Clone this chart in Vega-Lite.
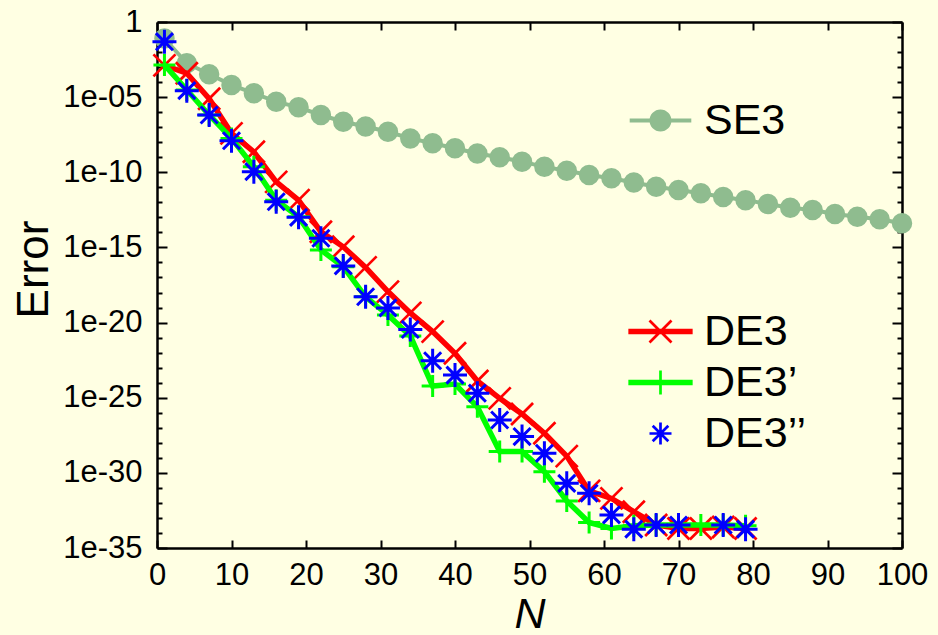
{
  "$schema": "https://vega.github.io/schema/vega-lite/v6.json",
  "width": 745,
  "height": 526,
  "autosize": {"type": "none"},
  "padding": {"left": 157, "top": 22, "right": 36, "bottom": 87},
  "background": "#FFFFE3",
  "config": {
    "view": {"stroke": null},
    "font": "Liberation Sans",
    "axis": {
      "labelFont": "Liberation Sans",
      "titleFont": "Liberation Sans",
      "labelColor": "black",
      "titleColor": "black",
      "grid": false,
      "domainColor": "black",
      "domainWidth": 2.5,
      "tickColor": "black",
      "tickWidth": 2,
      "labelFlush": false,
      "labelOverlap": false
    },
    "legend": {"labelFont": "Liberation Sans", "labelFontSize": 43, "labelColor": "black"}
  },
  "data": {
    "values": [
      {"series": "SE3", "N": 1, "err": 8e-2},
      {"series": "SE3", "N": 4, "err": 1.8e-3},
      {"series": "SE3", "N": 7, "err": 3.3e-4},
      {"series": "SE3", "N": 10, "err": 6.5e-5},
      {"series": "SE3", "N": 13, "err": 1.8e-5},
      {"series": "SE3", "N": 16, "err": 5.0e-6},
      {"series": "SE3", "N": 19, "err": 2.1e-6},
      {"series": "SE3", "N": 22, "err": 6.5e-7},
      {"series": "SE3", "N": 25, "err": 2.3e-7},
      {"series": "SE3", "N": 28, "err": 1.1e-7},
      {"series": "SE3", "N": 31, "err": 5.0e-8},
      {"series": "SE3", "N": 34, "err": 1.8e-8},
      {"series": "SE3", "N": 37, "err": 8.5e-9},
      {"series": "SE3", "N": 40, "err": 4.0e-9},
      {"series": "SE3", "N": 43, "err": 1.8e-9},
      {"series": "SE3", "N": 46, "err": 1.0e-9},
      {"series": "SE3", "N": 49, "err": 5.1e-10},
      {"series": "SE3", "N": 52, "err": 2.3e-10},
      {"series": "SE3", "N": 55, "err": 1.26e-10},
      {"series": "SE3", "N": 58, "err": 6.6e-11},
      {"series": "SE3", "N": 61, "err": 4.0e-11},
      {"series": "SE3", "N": 64, "err": 2.1e-11},
      {"series": "SE3", "N": 67, "err": 1.1e-11},
      {"series": "SE3", "N": 70, "err": 6.6e-12},
      {"series": "SE3", "N": 73, "err": 4.0e-12},
      {"series": "SE3", "N": 76, "err": 2.3e-12},
      {"series": "SE3", "N": 79, "err": 1.4e-12},
      {"series": "SE3", "N": 82, "err": 7.8e-13},
      {"series": "SE3", "N": 85, "err": 4.4e-13},
      {"series": "SE3", "N": 88, "err": 3.1e-13},
      {"series": "SE3", "N": 91, "err": 1.7e-13},
      {"series": "SE3", "N": 94, "err": 1.1e-13},
      {"series": "SE3", "N": 97, "err": 7.6e-14},
      {"series": "SE3", "N": 100, "err": 4.1e-14},

      {"series": "DE3", "N": 1, "err": 1.3e-3},
      {"series": "DE3", "N": 4, "err": 3.9e-4},
      {"series": "DE3", "N": 7, "err": 7.9e-6},
      {"series": "DE3", "N": 10, "err": 3.9e-8},
      {"series": "DE3", "N": 13, "err": 2.3e-9},
      {"series": "DE3", "N": 16, "err": 2.3e-11},
      {"series": "DE3", "N": 19, "err": 1.4e-12},
      {"series": "DE3", "N": 22, "err": 1.1e-14},
      {"series": "DE3", "N": 25, "err": 1.1e-15},
      {"series": "DE3", "N": 28, "err": 4.7e-17},
      {"series": "DE3", "N": 31, "err": 1.15e-18},
      {"series": "DE3", "N": 34, "err": 4.4e-20},
      {"series": "DE3", "N": 37, "err": 2.5e-21},
      {"series": "DE3", "N": 40, "err": 9.1e-23},
      {"series": "DE3", "N": 43, "err": 1.3e-24},
      {"series": "DE3", "N": 46, "err": 9.1e-26},
      {"series": "DE3", "N": 49, "err": 8.3e-27},
      {"series": "DE3", "N": 52, "err": 4.3e-28},
      {"series": "DE3", "N": 55, "err": 1.3e-29},
      {"series": "DE3", "N": 58, "err": 6.3e-32},
      {"series": "DE3", "N": 61, "err": 2.0e-32},
      {"series": "DE3", "N": 64, "err": 2.6e-33},
      {"series": "DE3", "N": 67, "err": 3.4e-34},
      {"series": "DE3", "N": 70, "err": 2.0e-34},
      {"series": "DE3", "N": 73, "err": 2.0e-34},
      {"series": "DE3", "N": 76, "err": 2.5e-34},
      {"series": "DE3", "N": 79, "err": 2.0e-34},

      {"series": "DE3’", "N": 1, "err": 1.4e-3},
      {"series": "DE3’", "N": 4, "err": 3.0e-5},
      {"series": "DE3’", "N": 7, "err": 6.5e-7},
      {"series": "DE3’", "N": 10, "err": 1.8e-8},
      {"series": "DE3’", "N": 13, "err": 2.3e-10},
      {"series": "DE3’", "N": 16, "err": 1.4e-12},
      {"series": "DE3’", "N": 19, "err": 1.1e-13},
      {"series": "DE3’", "N": 22, "err": 6.8e-16},
      {"series": "DE3’", "N": 25, "err": 5.2e-17},
      {"series": "DE3’", "N": 28, "err": 5.2e-19},
      {"series": "DE3’", "N": 31, "err": 3.2e-20},
      {"series": "DE3’", "N": 34, "err": 1.3e-21},
      {"series": "DE3’", "N": 37, "err": 6.0e-25},
      {"series": "DE3’", "N": 40, "err": 8.1e-25},
      {"series": "DE3’", "N": 43, "err": 2.5e-26},
      {"series": "DE3’", "N": 46, "err": 2.6e-29},
      {"series": "DE3’", "N": 49, "err": 2.6e-29},
      {"series": "DE3’", "N": 52, "err": 1.2e-30},
      {"series": "DE3’", "N": 55, "err": 1.35e-32},
      {"series": "DE3’", "N": 58, "err": 5.0e-34},
      {"series": "DE3’", "N": 61, "err": 2.0e-34},
      {"series": "DE3’", "N": 64, "err": 3.0e-34},
      {"series": "DE3’", "N": 67, "err": 3.4e-34},
      {"series": "DE3’", "N": 70, "err": 3.4e-34},
      {"series": "DE3’", "N": 73, "err": 3.4e-34},
      {"series": "DE3’", "N": 76, "err": 3.4e-34},
      {"series": "DE3’", "N": 79, "err": 3.0e-34},

      {"series": "DE3’’", "N": 1, "err": 4.9e-2},
      {"series": "DE3’’", "N": 4, "err": 2.7e-5},
      {"series": "DE3’’", "N": 7, "err": 6.5e-7},
      {"series": "DE3’’", "N": 10, "err": 1.26e-8},
      {"series": "DE3’’", "N": 13, "err": 1.1e-10},
      {"series": "DE3’’", "N": 16, "err": 1.1e-12},
      {"series": "DE3’’", "N": 19, "err": 1.0e-13},
      {"series": "DE3’’", "N": 22, "err": 4.1e-15},
      {"series": "DE3’’", "N": 25, "err": 5.9e-17},
      {"series": "DE3’’", "N": 28, "err": 5.2e-19},
      {"series": "DE3’’", "N": 31, "err": 9.5e-20},
      {"series": "DE3’’", "N": 34, "err": 3.5e-21},
      {"series": "DE3’’", "N": 37, "err": 2.9e-23},
      {"series": "DE3’’", "N": 40, "err": 3.2e-24},
      {"series": "DE3’’", "N": 43, "err": 2.0e-25},
      {"series": "DE3’’", "N": 46, "err": 3.3e-27},
      {"series": "DE3’’", "N": 49, "err": 2.6e-28},
      {"series": "DE3’’", "N": 52, "err": 2.0e-29},
      {"series": "DE3’’", "N": 55, "err": 2.0e-31},
      {"series": "DE3’’", "N": 58, "err": 4.4e-32},
      {"series": "DE3’’", "N": 61, "err": 1.6e-33},
      {"series": "DE3’’", "N": 64, "err": 1.8e-34},
      {"series": "DE3’’", "N": 67, "err": 3.4e-34},
      {"series": "DE3’’", "N": 70, "err": 3.4e-34},
      {"series": "DE3’’", "N": 76, "err": 3.4e-34},
      {"series": "DE3’’", "N": 79, "err": 1.8e-34}
    ]
  },
  "layer": [
    {
      "mark": {"type": "point", "opacity": 0},
      "encoding": {
        "x": {
          "field": "N", "type": "quantitative",
          "scale": {"domain": [0, 100], "nice": false, "zero": false},
          "axis": {"orient": "top", "values": [0, 10, 20, 30, 40, 50, 60, 70, 80, 90, 100], "labels": false, "tickSize": -8, "title": null}
        },
        "y": {
          "field": "err", "type": "quantitative",
          "scale": {"type": "log", "domain": [1e-35, 1], "nice": false},
          "axis": {
            "orient": "right",
            "values": [1, 1e-1, 1e-2, 1e-3, 1e-4, 1e-5, 1e-6, 1e-7, 1e-8, 1e-9, 1e-10, 1e-11, 1e-12, 1e-13, 1e-14, 1e-15, 1e-16, 1e-17, 1e-18, 1e-19, 1e-20, 1e-21, 1e-22, 1e-23, 1e-24, 1e-25, 1e-26, 1e-27, 1e-28, 1e-29, 1e-30, 1e-31, 1e-32, 1e-33, 1e-34, 1e-35],
            "labels": false,
            "tickSize": {"condition": {"test": "round(log(datum.value)/LN10) % 5 == 0", "value": -10}, "value": -5},
            "title": null
          }
        }
      }
    },
    {
      "transform": [{"filter": "datum.series === 'SE3'"}],
      "mark": {"type": "line", "stroke": "#8FBC8F", "strokeWidth": 4},
      "encoding": {
        "x": {
          "field": "N", "type": "quantitative",
          "axis": {
            "orient": "bottom", "values": [0, 10, 20, 30, 40, 50, 60, 70, 80, 90, 100],
            "tickSize": -8, "labelPadding": 20, "labelFontSize": 31,
            "title": "N", "titleFontSize": 43, "titleFontStyle": "italic", "titleFontWeight": "normal", "titlePadding": 3
          }
        },
        "y": {
          "field": "err", "type": "quantitative",
          "axis": {
            "orient": "left",
            "values": [1, 1e-1, 1e-2, 1e-3, 1e-4, 1e-5, 1e-6, 1e-7, 1e-8, 1e-9, 1e-10, 1e-11, 1e-12, 1e-13, 1e-14, 1e-15, 1e-16, 1e-17, 1e-18, 1e-19, 1e-20, 1e-21, 1e-22, 1e-23, 1e-24, 1e-25, 1e-26, 1e-27, 1e-28, 1e-29, 1e-30, 1e-31, 1e-32, 1e-33, 1e-34, 1e-35],
            "labelExpr": "round(log(datum.value)/LN10) == 0 ? '1' : (round(log(datum.value)/LN10) % 5 != 0 ? '' : '1e-' + (round(-log(datum.value)/LN10) < 10 ? '0' : '') + round(-log(datum.value)/LN10))",
            "tickSize": {"condition": {"test": "round(log(datum.value)/LN10) % 5 == 0", "value": -10}, "value": -5},
            "labelPadding": 25, "labelFontSize": 31,
            "title": "Error", "titleFontSize": 44, "titleFontWeight": "normal", "titlePadding": 6, "titleY": 247
          }
        }
      }
    },
    {
      "transform": [{"filter": "datum.series === 'SE3'"}],
      "mark": {"type": "point", "shape": "circle", "filled": true, "size": 420, "opacity": 1},
      "encoding": {
        "x": {"field": "N", "type": "quantitative", "axis": null},
        "y": {"field": "err", "type": "quantitative", "axis": null},
        "fill": {
          "field": "series", "type": "nominal",
          "scale": {"domain": ["SE3"], "range": ["#8FBC8F"]},
          "legend": {
            "orient": "none", "legendX": 482, "legendY": 77, "title": null, "padding": 0,
            "symbolType": "M-2.8,-0.18H2.8V0.18H-2.8Z M-1,0A1,1,0,1,1,1,0A1,1,0,1,1,-1,0Z",
            "symbolSize": 484, "symbolStrokeWidth": 0, "symbolOpacity": 1, "labelOffset": 22
          }
        }
      }
    },
    {
      "transform": [{"filter": "datum.series === 'DE3'"}],
      "mark": {"type": "line", "strokeWidth": 5.5},
      "encoding": {
        "x": {"field": "N", "type": "quantitative", "axis": null},
        "y": {"field": "err", "type": "quantitative", "axis": null},
        "stroke": {
          "field": "series", "type": "nominal",
          "scale": {"domain": ["DE3", "DE3’", "DE3’’"], "range": ["#FF0000", "#00FF00", "#0000FF"]},
          "legend": {
            "orient": "none", "legendX": 482, "legendY": 288, "title": null, "padding": 0,
            "symbolSize": 484, "labelOffset": 22, "rowPadding": 7,
            "encode": {
              "symbols": {
                "update": {
                  "shape": [
                    {"test": "datum.value === 'DE3'", "value": "M-2.8,-0.12H2.8V0.12H-2.8Z M-1,-1L1,1M-1,1L1,-1"},
                    {"test": "datum.value === 'DE3’'", "value": "M-2.8,-0.12H2.8V0.12H-2.8Z M-1,0L1,0M0,-1.1L0,1.1"},
                    {"value": "M-1,0L1,0M0,-1L0,1M-0.71,-0.71L0.71,0.71M-0.71,0.71L0.71,-0.71"}
                  ],
                  "strokeWidth": {"value": 2.7},
                  "fill": {"value": "transparent"},
                  "opacity": {"value": 1}
                }
              }
            }
          }
        }
      }
    },
    {
      "transform": [{"filter": "datum.series === 'DE3'"}],
      "mark": {"type": "point", "shape": "M-1,-1L1,1M-1,1L1,-1", "filled": false, "size": 484, "strokeWidth": 2.7, "opacity": 1},
      "encoding": {
        "x": {"field": "N", "type": "quantitative", "axis": null},
        "y": {"field": "err", "type": "quantitative", "axis": null},
        "stroke": {"field": "series", "type": "nominal"}
      }
    },
    {
      "transform": [{"filter": "datum.series === 'DE3’'"}],
      "mark": {"type": "line", "strokeWidth": 5.5},
      "encoding": {
        "x": {"field": "N", "type": "quantitative", "axis": null},
        "y": {"field": "err", "type": "quantitative", "axis": null},
        "stroke": {"field": "series", "type": "nominal"}
      }
    },
    {
      "transform": [{"filter": "datum.series === 'DE3’'"}],
      "mark": {"type": "point", "shape": "M-1,0L1,0M0,-1L0,1", "filled": false, "size": 484, "strokeWidth": 3, "opacity": 1},
      "encoding": {
        "x": {"field": "N", "type": "quantitative", "axis": null},
        "y": {"field": "err", "type": "quantitative", "axis": null},
        "stroke": {"field": "series", "type": "nominal"}
      }
    },
    {
      "transform": [{"filter": "datum.series === 'DE3’’'"}],
      "mark": {"type": "point", "shape": "M-1,0L1,0M0,-1L0,1M-0.71,-0.71L0.71,0.71M-0.71,0.71L0.71,-0.71", "filled": false, "size": 576, "strokeWidth": 3, "opacity": 1},
      "encoding": {
        "x": {"field": "N", "type": "quantitative", "axis": null},
        "y": {"field": "err", "type": "quantitative", "axis": null},
        "stroke": {"field": "series", "type": "nominal"}
      }
    }
  ],
  "resolve": {"axis": {"x": "independent", "y": "independent"}}
}
